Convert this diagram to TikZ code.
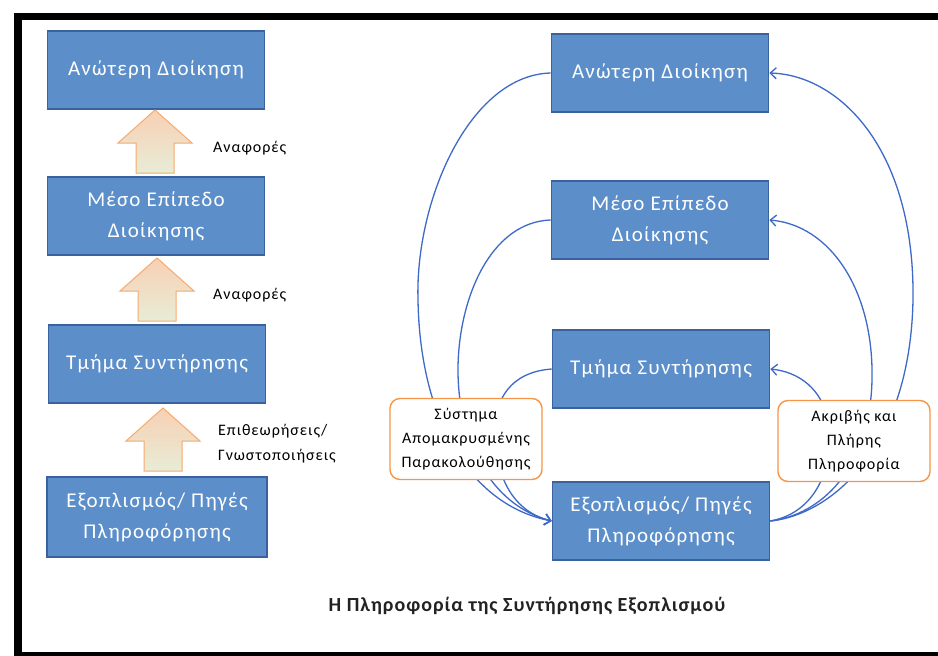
\documentclass[tikz,border=0pt]{standalone}
\usepackage{fontspec}
\setmainfont{Carlito}
\newfontfamily\wide{Carlito}[LetterSpace=6]
\newfontfamily\capfont{Carlito}[LetterSpace=5]
\usetikzlibrary{arrows.meta}
\definecolor{boxfill}{RGB}{92,142,202}
\definecolor{boxline}{RGB}{58,98,158}
\definecolor{flow}{RGB}{62,105,200}
\definecolor{notefr}{RGB}{247,150,70}
\definecolor{arrowtop}{RGB}{247,208,180}
\definecolor{arrowbot}{RGB}{232,236,214}
\definecolor{arrowln}{RGB}{247,170,110}
\definecolor{captext}{RGB}{34,34,34}

\begin{document}
\begin{tikzpicture}[x=1pt,y=-1pt,
  level/.style={draw=boxline, line width=1.6pt, fill=boxfill, text=white,
    font=\wide\fontsize{21}{31}\selectfont, align=center,
    minimum width=217pt, minimum height=78pt, inner sep=0pt},
  note/.style={draw=notefr, line width=1.4pt, fill=white, rounded corners=10pt,
    align=center, font=\wide\fontsize{16}{24}\selectfont,
    minimum width=152pt, minimum height=81pt, inner sep=0pt},
  tag/.style={font=\wide\fontsize{16}{25}\selectfont, align=left, anchor=west, inner sep=0pt},
  uparrow/.style={draw=arrowln, line width=1pt, top color=arrowtop,
    bottom color=arrowbot, line join=miter},
  flowline/.style={draw=flow, line width=1.3pt},
  flowtip/.style={-{Straight Barb[length=6pt,width=11pt,line width=1.3pt]}},
  blockarrow/.pic={\path[uparrow] (0,0) -- (37,33) -- (19,33) -- (19,63)
    -- (-19,63) -- (-19,33) -- (-37,33) -- cycle;}
]
\useasboundingbox (0,0) rectangle (938,656);
\fill[white] (0,0) rectangle (938,656);

% frame
\fill[black] (14,13) rectangle (938,20);
\fill[black] (14,13) rectangle (22,656);
\fill[black] (14,652) rectangle (938,656);

% left column: reporting chain
\node[level] (L1) at (156,70)  {Ανώτερη Διοίκηση};
\node[level] (L2) at (156,216) {Μέσο Επίπεδο\\Διοίκησης};
\node[level] (L3) at (157,364) {Τμήμα Συντήρησης};
\node[level, minimum width=220pt, minimum height=80pt] (L4) at (157,517) {Εξοπλισμός/ Πηγές\\Πληροφόρησης};

\pic at (155,110) {blockarrow};
\pic at (157,258) {blockarrow};
\pic at (163,408) {blockarrow};

\node[tag] (t1) at (213,148) {Αναφορές};
\node[tag] (t2) at (213,295) {Αναφορές};
\node[tag] (t3) at (218,444) {Επιθεωρήσεις/\\Γνωστοποιήσεις};

% right column: information flow
\node[level] (R1) at (660,73)  {Ανώτερη Διοίκηση};
\node[level] (R2) at (660,220) {Μέσο Επίπεδο\\Διοίκησης};
\node[level] (R3) at (661,369) {Τμήμα Συντήρησης};
\node[level] (R4) at (661,521) {Εξοπλισμός/ Πηγές\\Πληροφόρησης};

% monitoring requests down to the equipment
\draw[flowline,flowtip] (R1.west) .. controls (470,75) and (415,200) .. (418,300)
  .. controls (420,420) and (470,505) .. (R4.west);
\draw[flowline,flowtip] (R2.west) .. controls (490,222) and (458,300) .. (458,370)
  .. controls (458,440) and (490,505) .. (R4.west);
\draw[flowline,flowtip] (R3.west) .. controls (510,372) and (495,400) .. (495,430)
  .. controls (495,480) and (515,512) .. (R4.west);

% information back up to each level
\draw[flowline,flowtip] (R4.east) .. controls (830,515) and (910,450) .. (913,300)
  .. controls (915,150) and (840,75) .. (R1.east);
\draw[flowline,flowtip] (R4.east) .. controls (820,515) and (870,470) .. (872,380)
  .. controls (874,290) and (830,225) .. (R2.east);
\draw[flowline,flowtip] (R4.east) .. controls (820,512) and (835,460) .. (828,420)
  .. controls (822,390) and (800,372) .. (R3.east);

\node[note] (S) at (466,439) {Σύστημα\\Απομακρυσμένης\\Παρακολούθησης};
\node[note] (P) at (854,441) {Ακριβής και\\Πλήρης\\Πληροφορία};

\node[font=\capfont\bfseries\fontsize{20}{24}\selectfont, text=captext] (cap) at (527,606)
  {Η Πληροφορία της Συντήρησης Εξοπλισμού};
\end{tikzpicture}
\end{document}
